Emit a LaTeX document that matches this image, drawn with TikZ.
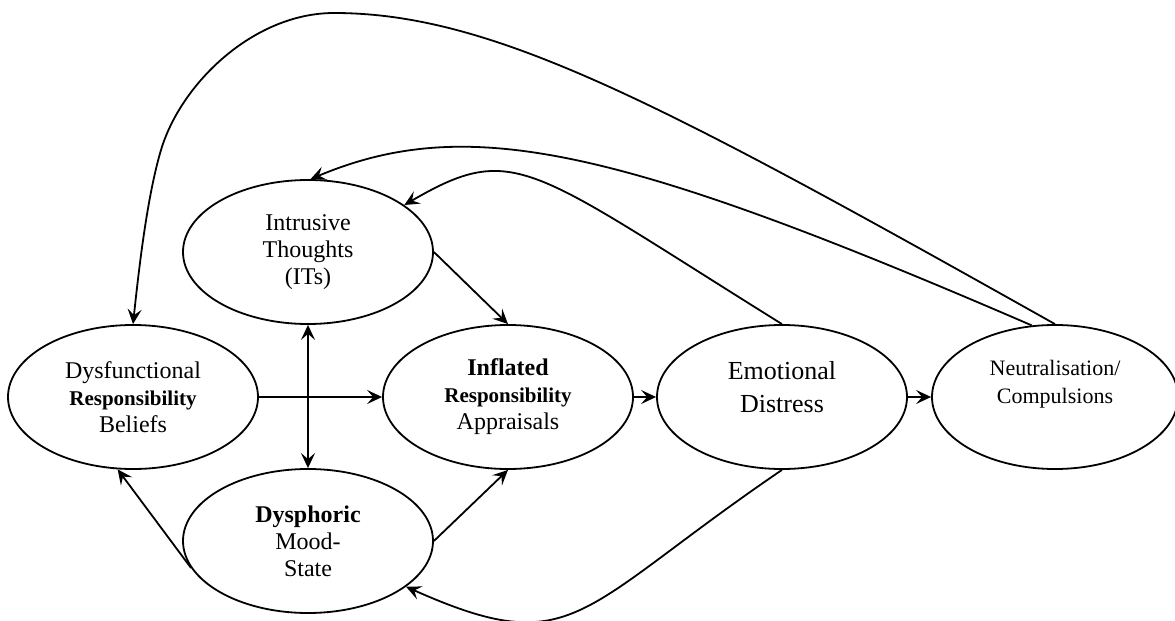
\documentclass[tikz,border=0pt]{standalone}
\usepackage{fontspec}
\setmainfont{Liberation Serif}
\usetikzlibrary{arrows.meta,shapes.geometric}

\begin{document}
\begin{tikzpicture}[x=0.5pt, y=-0.5pt,
		>={Stealth[length=7.5pt,width=7pt,inset=3pt]},
		bubble/.style={draw, ellipse, line width=0.9pt, minimum width=125pt, minimum height=72pt, inner sep=0pt, align=center, font=\fontsize{12}{13.5}\selectfont},
		link/.style={line width=0.9pt, ->}]
		%%%%% START %%%%%
		
		\useasboundingbox (0,0) rectangle (1175,621);
		
		\node[bubble] (beliefs) at (133,397) {Dysfunctional\\{\fontsize{10.5}{12}\selectfont\bfseries Responsibility}\\Beliefs};
		\node[bubble] (intrusions) at (308,252) {Intrusive\\Thoughts\\(ITs)};
		\node[bubble] (appraisals) at (508,397) {\textbf{Inflated}\\{\fontsize{10.5}{12}\selectfont\bfseries Responsibility}\\Appraisals};
		\node[bubble, font=\fontsize{13}{16.5}\selectfont, text depth=10.5pt] (distress) at (782,397) {Emotional\\Distress};
		\node[bubble, minimum width=123pt, font=\fontsize{11}{14}\selectfont, text depth=15.5pt] (neutral) at (1055,397) {Neutralisation/\\Compulsions};
		\node[bubble] (mood) at (308,541) {\textbf{Dysphoric}\\Mood-\\State};
		
		\draw[link] (beliefs.east) -- (appraisals.west);
		\draw[link] (appraisals.east) -- (distress.west);
		\draw[link] (distress.east) -- (neutral.west);
		\draw[link, <->] (intrusions.south) -- (mood.north);
		\draw[link] (intrusions.east) -- (appraisals.north);
		\draw[link] (mood.east) -- (appraisals.south);
		\draw[link] (mood.193) -- (beliefs.258);
		
		\draw[link] (distress.south) .. controls (576,610) and (575,662) .. (mood.335);
		\draw[link] (distress.north) .. controls (528,166) and (514.6,140.8) .. (intrusions.26);
		\draw[link] (neutral.108) .. controls (619,147) and (468,113) .. (intrusions.88);
		\draw[link] (neutral.north) .. controls (663,104) and (494,13) .. (334,13)
			.. controls (254,13) and (181,83) .. (161,150)
			.. controls (146.7,197.9) and (138.5,273) .. (beliefs.north);
		
		%%%%% END %%%%%
	\end{tikzpicture}
\end{document}
